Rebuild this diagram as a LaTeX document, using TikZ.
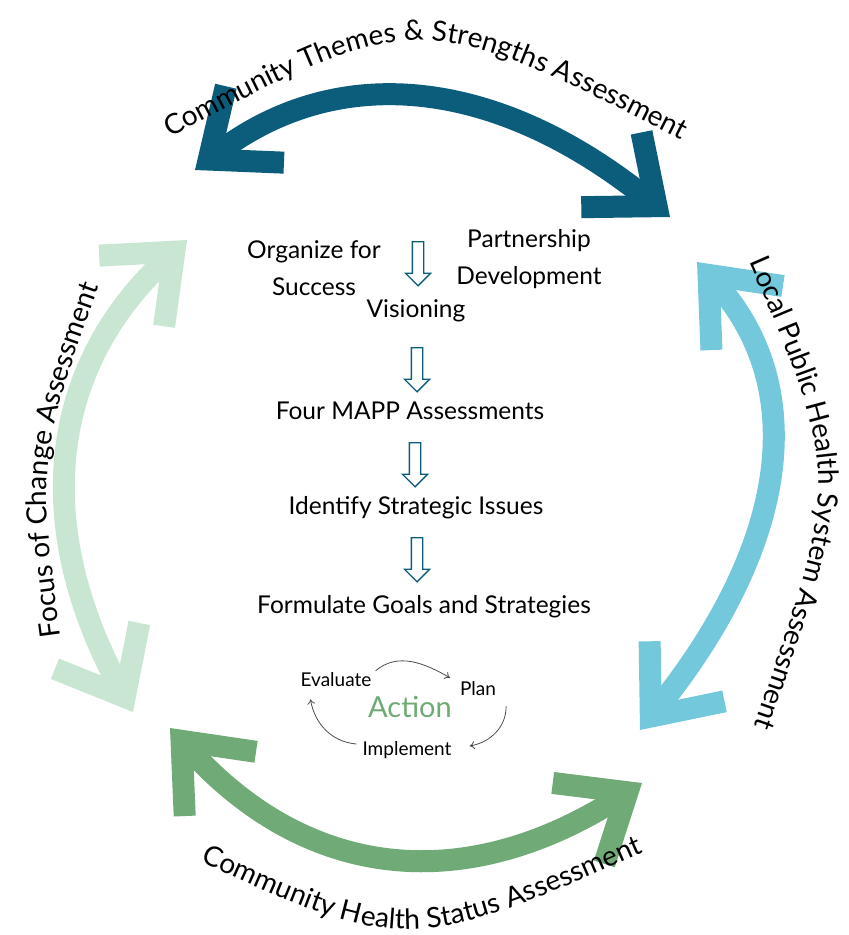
\documentclass[tikz,border=0pt]{standalone}
\usepackage{fontspec}
\setmainfont{Lato}
\usetikzlibrary{arrows.meta,decorations.text,shapes.arrows}

\definecolor{themesblue}{HTML}{0B5D7B}
\definecolor{systemblue}{HTML}{74C8DC}
\definecolor{statusgreen}{HTML}{6FAA77}
\definecolor{changegreen}{HTML}{C9E6D2}
\definecolor{actiongreen}{HTML}{6DAA74}

\newcommand\arclabelfont{\fontsize{28}{30}\selectfont}

\tikzset{
  bigarrow/.style={line width=22pt,
    {Straight Barb[length=58pt,width=96pt]}-{Straight Barb[length=58pt,width=96pt]}},
  steptext/.style={font=\fontsize{24.5}{37}\selectfont, align=center, inner sep=2pt},
  cycletext/.style={font=\fontsize{19}{22}\selectfont, inner sep=2pt},
  cyclearrow/.style={-{To[length=5pt,width=8pt]}, line width=0.8pt, black!70},
  downarrow/.style={shape=single arrow, shape border rotate=270, draw=themesblue,
    fill=white, line width=1.3pt, minimum height=44pt,
    single arrow head extend=7pt, inner sep=5pt}
}

\begin{document}
\begin{tikzpicture}[x=1pt,y=-1pt]

    \useasboundingbox (0,0) rectangle (849,935);

    % Ends of the four big arrows
    \coordinate (themesL) at (195,170);
    \coordinate (themesR) at (670,217);
    \coordinate (systemT) at (697,262);
    \coordinate (systemB) at (640,730);
    \coordinate (statusL) at (170,728);
    \coordinate (statusR) at (642,783);
    \coordinate (changeT) at (187,240);
    \coordinate (changeB) at (133,712);

    % Top arrow: community themes (dark blue)
    \draw[bigarrow,themesblue] (themesL) .. controls (337,62) and (495,76) .. (themesR);
    % Right arrow: local public health system (light blue)
    \draw[bigarrow,systemblue] (systemT) .. controls (809,387) and (790,543) .. (systemB);
    % Bottom arrow: health status (green)
    \draw[bigarrow,statusgreen] (statusL) .. controls (306,879) and (463,897) .. (statusR);
    % Left arrow: focus of change (pale green)
    \draw[bigarrow,changegreen] (changeT) .. controls (49,367) and (31,524) .. (changeB);

    % Curved labels round the circle
    \path[decorate,decoration={text along path,text align=center,
        text={|\arclabelfont|Community Themes {\&} Strengths Assessment}}]
        (162,142) .. controls (418,6) .. (690,144);
    \path[decorate,decoration={text along path,text align=center,
        text={|\arclabelfont|Local Public Health System Assessment}}]
        (744,250) .. controls (842,475) .. (750,738);
    \path[decorate,decoration={text along path,text align=center,
        text={|\arclabelfont|Community Health Status Assessment}}]
        (170,847) .. controls (406,958) .. (674,839);
    \path[decorate,decoration={text along path,text align=center,
        text={|\arclabelfont|Focus of Change Assessment}}]
        (63,652) .. controls (37,459) .. (104,272);

    % Steps down the middle
    \node[steptext] (organize) at (314,268) {Organize for\\Success};
    \node[steptext] (partner) at (529,259) {Partnership\\Development};
    \node[steptext] (vision) at (416,311) {Visioning};
    \node[steptext] (mapp) at (410,411) {Four MAPP Assessments};
    \node[steptext] (issues) at (416,508) {Identify Strategic Issues};
    \node[steptext] (goals) at (424,607) {Formulate Goals and Strategies};

    % Small hollow arrows between the steps
    \node[downarrow] (arr1) at (418,261) {};
    \node[downarrow] (arr2) at (417,367) {};
    \node[downarrow] (arr3) at (415,462) {};
    \node[downarrow] (arr4) at (417,557) {};

    % Action cycle
    \node[cycletext] (evaluate) at (336,680) {Evaluate};
    \node[cycletext] (plan) at (478,689) {Plan};
    \node[cycletext] (implement) at (407,750) {Implement};
    \node[font=\fontsize{29}{31}\selectfont, text=actiongreen] (action) at (410,707) {Action};

    \draw[cyclearrow] ([xshift=2pt]evaluate.north east) to[out=40,in=150] ([xshift=-8pt,yshift=2pt]plan.north west);
    \draw[cyclearrow] ([xshift=8pt,yshift=-8pt]plan.south east) to[out=-90,in=10] ([xshift=16pt,yshift=4pt]implement.east);
    \draw[cyclearrow] ([xshift=-4pt,yshift=6pt]implement.west) to[out=175,in=-80] ([xshift=12pt,yshift=-10pt]evaluate.south west);

\end{tikzpicture}
\end{document}
